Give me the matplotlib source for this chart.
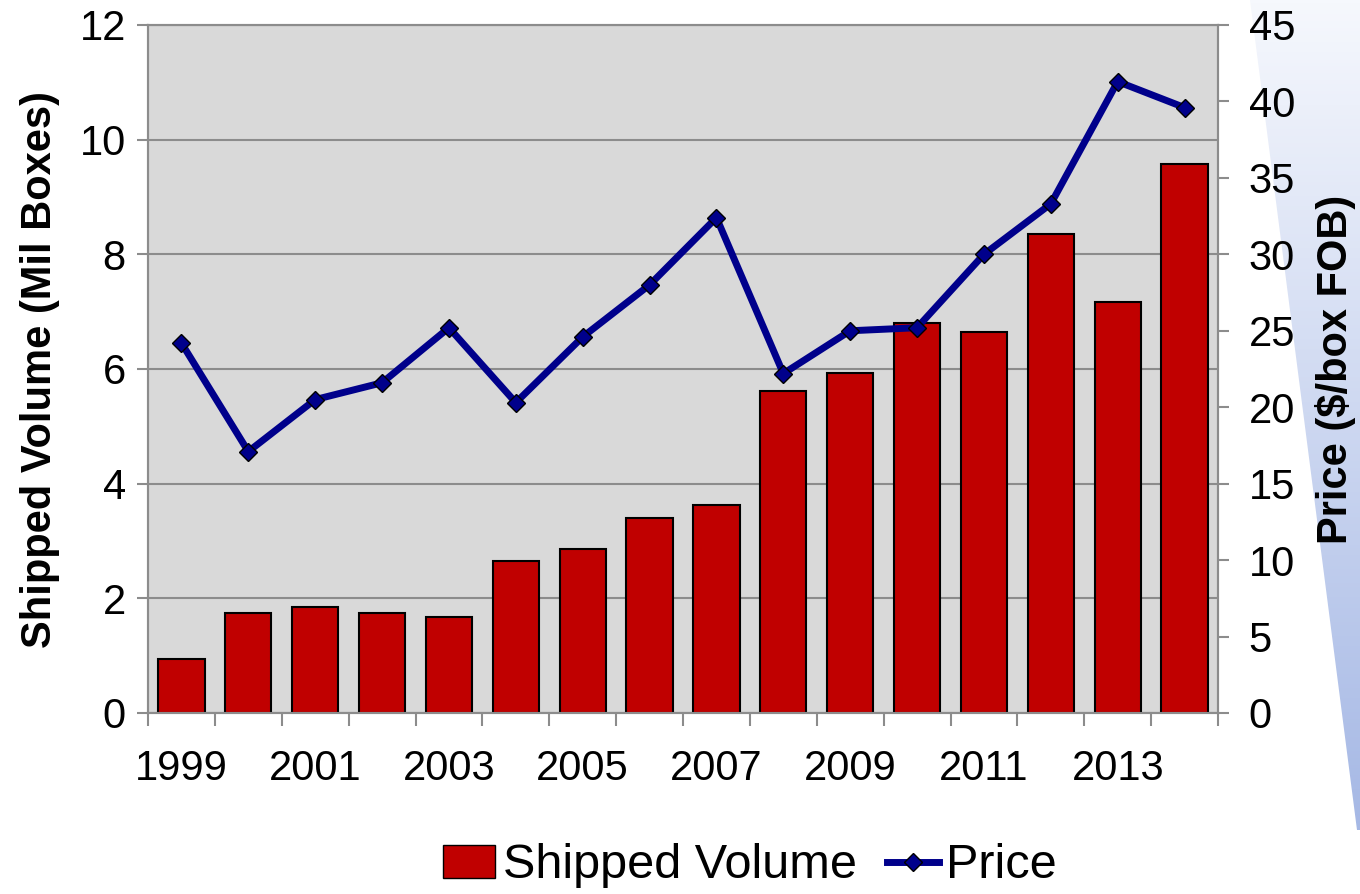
import numpy as np
import matplotlib.pyplot as plt
from matplotlib.colors import LinearSegmentedColormap
from matplotlib.patches import Polygon, Patch
from matplotlib.lines import Line2D

years = list(range(1999, 2015))
volume = [0.94, 1.74, 1.85, 1.74, 1.67, 2.65, 2.86, 3.40, 3.63, 5.62, 5.93, 6.80, 6.65, 8.36, 7.17, 9.58]
price = [24.2, 17.1, 20.5, 21.6, 25.2, 20.3, 24.6, 28.0, 32.4, 22.2, 25.0, 25.2, 30.0, 33.3, 41.3, 39.6]
year_labels = [str(y) if (y - 1999) % 2 == 0 else '' for y in years]

plt.rcParams['font.family'] = ['Liberation Sans', 'DejaVu Sans']
grey = '#8c8c8c'
red = '#c00000'
navy = '#00008b'

fig = plt.figure(figsize=(13.6, 8.94), dpi=100)

# decorative blue wedge on the right of the slide
bg = fig.add_axes([0, 0, 1, 1], zorder=-10)
bg.set_xlim(0, 1360)
bg.set_ylim(894, 0)
bg.axis('off')
grad = np.linspace(0, 1, 256).reshape(-1, 1)
cmap = LinearSegmentedColormap.from_list('w', ['#f6f8fd', '#9fb3e3'])
img = bg.imshow(grad, cmap=cmap, extent=[1240, 1360, 894, 0], aspect='auto')
wedge = Polygon([[1250, 0], [1360, 0], [1360, 830], [1357, 830]], closed=True,
                transform=bg.transData, facecolor='none', edgecolor='none')
bg.add_patch(wedge)
img.set_clip_path(wedge)

ax = fig.add_axes([148 / 1360, 1 - 713 / 894, 1070 / 1360, 688 / 894])
ax.set_facecolor('#d9d9d9')
x = np.arange(len(years))
ax.bar(x, volume, width=0.69, color=red, edgecolor='black', linewidth=1.5, zorder=3)
ax.set_ylim(0, 12)
ax.set_xlim(-0.5, len(years) - 0.5)
ax.set_yticks(range(0, 13, 2))
ax.yaxis.grid(True, color=grey, linewidth=1.5, zorder=0)
ax.set_axisbelow(True)
ax.set_xticks(x)
ax.set_xticklabels(year_labels)
ax.set_xticks(np.arange(-0.5, len(years)), minor=True)
ax.tick_params(axis='x', which='major', length=0, labelsize=30, pad=26)
ax.tick_params(axis='x', which='minor', length=9, width=1.5, color=grey)
ax.tick_params(axis='y', length=8, width=1.5, color=grey, labelsize=30, pad=8)
for s in ax.spines.values():
    s.set_color(grey)
    s.set_linewidth(1.5)
ax.set_ylabel('Shipped Volume (Mil Boxes)', fontsize=30, fontweight='bold', labelpad=14)

ax2 = ax.twinx()
ax2.plot(x, price, color=navy, linewidth=5, marker='D', markersize=9,
         markerfacecolor=navy, markeredgecolor='black', markeredgewidth=1, zorder=5)
ax2.set_ylim(0, 45)
ax2.set_yticks(range(0, 46, 5))
ax2.tick_params(axis='y', length=8, width=1.5, color=grey, labelsize=30, pad=14)
for s in ax2.spines.values():
    s.set_color(grey)
    s.set_linewidth(1.5)
ax2.set_ylabel('Price ($/box FOB)', fontsize=30, fontweight='bold', labelpad=14)

handles = [Patch(facecolor=red, edgecolor='black', linewidth=1),
           Line2D([], [], color=navy, linewidth=5, marker='D', markersize=9,
                  markerfacecolor=navy, markeredgecolor='black')]
fig.legend(handles, ['Shipped Volume', 'Price'], loc='center',
           bbox_to_anchor=(750 / 1360, 1 - 866 / 894), ncol=2, frameon=False,
           fontsize=35, handlelength=1.07, handleheight=0.66, handletextpad=0.16,
           columnspacing=0.62)

fig.savefig('out.png', dpi=100)
